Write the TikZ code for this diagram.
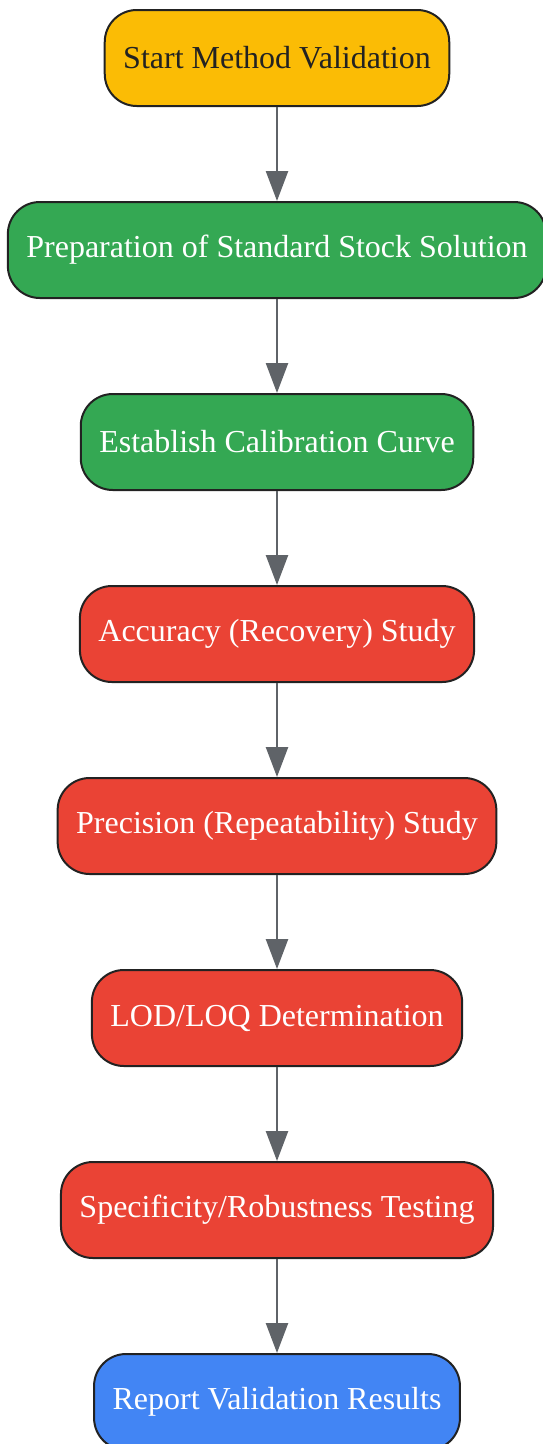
\documentclass[tikz,border=0pt]{standalone}
\usepackage{fontspec}
\setmainfont{Liberation Serif}
\usetikzlibrary{positioning,arrows.meta}

\definecolor{startcol}{HTML}{FBBC05}
\definecolor{prepcol}{HTML}{34A853}
\definecolor{testcol}{HTML}{EA4335}
\definecolor{endcol}{HTML}{4285F4}
\definecolor{edgecol}{HTML}{222222}
\definecolor{arrcol}{HTML}{5F6368}

\tikzset{
  stage/.style={draw=edgecol, line width=2pt, rounded corners=32pt,
    minimum height=96pt, inner xsep=18.5pt, text=white,
    font=\fontsize{32}{36}\selectfont},
  flow/.style={draw=arrcol, line width=2.5pt,
    -{Triangle[length=30pt,width=22pt]}}
}

\begin{document}
\begin{tikzpicture}[node distance=94pt]
\useasboundingbox (0pt,0pt) rectangle (542pt,-1444pt);
\node[stage, fill=startcol, text=edgecol] (start) at (277pt,-58pt) {Start Method Validation};
\node[stage, fill=prepcol, below=of start] (stock) {Preparation of Standard Stock Solution};
\node[stage, fill=prepcol, below=of stock] (calib) {Establish Calibration Curve};
\node[stage, fill=testcol, below=of calib] (accur) {Accuracy (Recovery) Study};
\node[stage, fill=testcol, below=of accur] (precis) {Precision (Repeatability) Study};
\node[stage, fill=testcol, below=of precis] (lodloq) {LOD/LOQ Determination};
\node[stage, fill=testcol, below=of lodloq] (robust) {Specificity/Robustness Testing};
\node[stage, fill=endcol, below=of robust] (report) {Report Validation Results};

\draw[flow] (start) -- (stock);
\draw[flow] (stock) -- (calib);
\draw[flow] (calib) -- (accur);
\draw[flow] (accur) -- (precis);
\draw[flow] (precis) -- (lodloq);
\draw[flow] (lodloq) -- (robust);
\draw[flow] (robust) -- (report);
\end{tikzpicture}
\end{document}
